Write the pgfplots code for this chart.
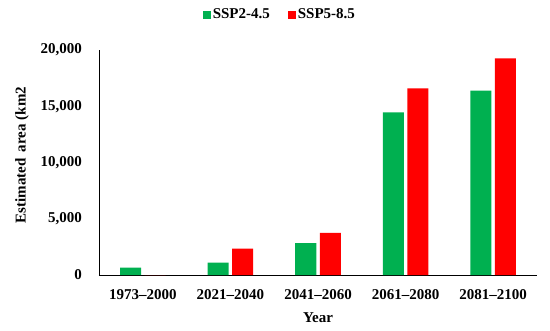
\documentclass[border=0pt]{standalone}
\usepackage{pgfplots}
\pgfplotsset{compat=1.18}
\usepackage{fontspec}
\setmainfont{Liberation Serif}
\definecolor{sgreen}{HTML}{00B050}
\definecolor{sred}{HTML}{FF0000}
\newcommand{\ff}{\fontsize{15}{18}\selectfont\bfseries}
\begin{document}
\ff
\begin{tikzpicture}
\begin{axis}[
  scale only axis, width=438pt, height=225pt,
  xmin=-0.5, xmax=4.5, ymin=0, ymax=20000,
  axis x line*=bottom, axis y line*=left,
  axis line style={black, line width=0.8pt},
  xtick={0,1,2,3,4},
  xticklabels={1973--2000,2021--2040,2041--2060,2061--2080,2081--2100},
  ytick={0,5000,10000,15000,20000},
  scaled y ticks=false,
  /pgf/number format/fixed,
  /pgf/number format/1000 sep={,},
  /pgf/number format/assume math mode=true,
  major tick length=0pt,
  ticklabel style={font=\ff},
  xticklabel style={yshift=-9pt},
  yticklabel style={xshift=-12pt},
  xlabel={Year}, ylabel={Estimated\, area (km2},
  xlabel style={font=\ff, at={(axis description cs:0.5,0)}, anchor=center, yshift=-43pt},
  ylabel style={font=\ff, at={(axis description cs:-0.176,0.533)}, anchor=center, rotate=0},
  legend style={at={(0.413,1.0)}, anchor=center, yshift=35pt, draw=none, legend columns=2,
    font=\ff, /tikz/every even column/.append style={column sep=16pt}},
  legend image code/.code={\fill[#1] (0pt,-4pt) rectangle (8pt,4pt);},
  clip=false,
]
\addplot[ybar, bar width=0.24, bar shift=-0.14, fill=sgreen, draw=none] coordinates {(0,650) (1,1100) (2,2840) (3,14450) (4,16400)};
\addlegendentry{SSP2-4.5}
\addplot[ybar, bar width=0.24, bar shift=0.14, fill=sred, draw=none] coordinates {(0,0) (1,2340) (2,3740) (3,16600) (4,19250)};
\addlegendentry{SSP5-8.5}
\end{axis}
\path[use as bounding box] ([xshift=-99pt,yshift=-55pt]current axis.south west) rectangle ([xshift=13pt,yshift=50pt]current axis.north east);
\end{tikzpicture}
\end{document}
